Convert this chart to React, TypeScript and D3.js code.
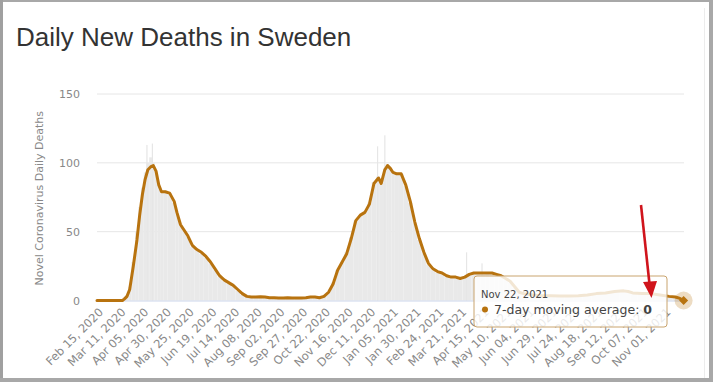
import React from 'react';
import * as d3 from 'd3';

const startDate = '2020-02-15';
const endDate = '2021-11-22';

const dayOffsets = [0, 5, 10, 15, 20, 25, 28, 30, 33, 36, 40, 44, 47, 50, 53, 56, 59, 62, 65, 68, 71, 75, 80, 85, 88, 92, 96, 100, 105, 110, 115, 120, 125, 130, 135, 140, 145, 150, 155, 160, 165, 170, 175, 180, 185, 190, 195, 200, 205, 210, 215, 220, 225, 230, 235, 240, 245, 250, 255, 260, 265, 270, 275, 280, 285, 290, 295, 300, 305, 310, 313, 317, 320, 323, 326, 330, 335, 340, 345, 350, 355, 360, 365, 370, 375, 380, 385, 390, 395, 400, 405, 410, 415, 420, 425, 430, 435, 440, 445, 450, 455, 460, 465, 470, 475, 480, 490, 500, 510, 520, 530, 540, 550, 560, 570, 580, 585, 590, 600, 610, 620, 630, 637, 642, 646];

const movingAverage = [0, 0, 0, 0, 0, 0, 0, 1, 3, 8, 25, 44, 62, 77, 88, 95, 97, 98, 94, 84, 79, 79, 78, 72, 64, 55, 51, 47, 40, 37, 35, 32, 28, 23, 18, 15, 13, 11, 8, 5, 3, 2.5, 2.5, 2.8, 2.5, 2, 2, 1.8, 1.8, 2, 1.8, 1.8, 1.8, 2, 2.5, 2.5, 2, 3, 6, 12, 22, 28, 34, 45, 58, 62, 64, 70, 85, 89, 85, 95, 98, 96, 93, 92, 92, 84, 72, 57, 45, 35, 27, 23, 21, 20, 18, 17, 17, 16, 17, 19, 20, 20, 20, 20, 20, 19, 18, 16, 14, 10, 6, 5, 4.5, 4, 3.5, 3.5, 3.3, 3.3, 3.5, 4, 5, 5.5, 6.5, 7, 6.5, 5.5, 5, 5, 4, 3, 2.5, 1.5, 0];

const dailyDeaths = [0, 0, 0, 0, 0, 0, 0, 2, 4, 10, 28, 50, 68, 82, 93, 100, 104, 100, 92, 84, 78, 80, 78, 71, 63, 54, 50, 46, 39, 36, 34, 31, 27, 22, 17, 14, 12, 10, 7, 4, 3, 2, 3, 3, 2, 2, 2, 2, 2, 2, 2, 2, 2, 2, 3, 3, 2, 3, 6, 13, 22, 28, 35, 46, 58, 62, 64, 71, 86, 90, 86, 96, 99, 96, 93, 92, 92, 83, 71, 56, 44, 34, 26, 22, 20, 19, 17, 16, 16, 15, 17, 19, 20, 20, 19, 20, 20, 18, 17, 15, 13, 9, 6, 5, 4, 4, 3, 3, 3, 3, 3, 4, 5, 5, 6, 7, 6, 5, 5, 5, 4, 3, 2, 1, 0];

const spikeDays = [55, 61, 309, 317, 407, 424];
const spikeDeaths = [113, 114, 112, 120, 35, 27];

const tickLabels = ['Feb 15, 2020', 'Mar 11, 2020', 'Apr 05, 2020', 'Apr 30, 2020', 'May 25, 2020', 'Jun 19, 2020', 'Jul 14, 2020', 'Aug 08, 2020', 'Sep 02, 2020', 'Sep 27, 2020', 'Oct 22, 2020', 'Nov 16, 2020', 'Dec 11, 2020', 'Jan 05, 2021', 'Jan 30, 2021', 'Feb 24, 2021', 'Mar 21, 2021', 'Apr 15, 2021', 'May 10, 2021', 'Jun 04, 2021', 'Jun 29, 2021', 'Jul 24, 2021', 'Aug 18, 2021', 'Sep 12, 2021', 'Oct 07, 2021', 'Nov 01, 2021'];

const yTicks = [0, 50, 100, 150];

const tooltipDate = 'Nov 22, 2021';
const tooltipValue = 0;

const DAY = 86400000;
const parseLabel = d3.utcParse('%b %d, %Y');
const t0 = d3.utcParse('%Y-%m-%d')(startDate) as Date;
const t1 = d3.utcParse('%Y-%m-%d')(endDate) as Date;
const dayToDate = (d: number) => new Date(t0.getTime() + d * DAY);

export default function App() {
  const W = 713, H = 382;
  const x = d3.scaleUtc().domain([t0, t1]).range([97, 683.6]);
  const y = d3.scaleLinear().domain([0, 150]).range([300.5, 94]);
  const lineColor = '#b8730f';
  const font = '"DejaVu Sans", Verdana, sans-serif';

  const pts = dayOffsets.map((d, i) => ({ d, v: movingAverage[i], b: dailyDeaths[i] }));
  const line = d3.line<{ d: number; v: number }>()
    .x(p => x(dayToDate(p.d)))
    .y(p => y(p.v));

  const bars = pts.map((p, i) => {
    const prev = i > 0 ? (pts[i - 1].d + p.d) / 2 : p.d - 0.5;
    const next = i < pts.length - 1 ? (pts[i + 1].d + p.d) / 2 : p.d + 0.5;
    const x0 = x(dayToDate(prev));
    const x1 = x(dayToDate(next));
    return { x0, x1, y: y(p.b) };
  });

  const last = pts[pts.length - 1];
  const mx = x(dayToDate(last.d));
  const my = y(last.v);

  return (
    <svg width={W} height={H} style={{ position: 'fixed', left: 0, top: 0, background: '#fff' }} fontFamily={font}>
      {/* frame */}
      <rect x={0} y={0} width={W} height={2} fill="#a8a8a8" />
      <rect x={0} y={0} width={3} height={H} fill="#a0a0a0" />
      <rect x={709} y={0} width={4} height={H} fill="#a8a8a8" />
      <rect x={0} y={378} width={W} height={4} fill="#a8a8a8" />
      <line x1={704.5} y1={8} x2={704.5} y2={378} stroke="#ececec" />

      <text x={16} y={46} fontFamily='"Liberation Sans", Arial, sans-serif' fontSize={26} fill="#333">Daily New Deaths in Sweden</text>

      {/* gridlines */}
      {yTicks.filter(t => t > 0).map(t => (
        <line key={t} x1={97} x2={684} y1={y(t)} y2={y(t)} stroke="#e6e6e6" strokeWidth={1} />
      ))}
      {yTicks.map(t => (
        <text key={'yl' + t} x={80} y={y(t) + 4} textAnchor="end" fontSize={11} fill="#888">{t}</text>
      ))}
      <text transform={`translate(43,${(y(0) + y(150)) / 2 + 1}) rotate(-90)`} textAnchor="middle" fontSize={11} fill="#888">Novel Coronavirus Daily Deaths</text>

      {/* bars */}
      {bars.map((b, i) => (
        <rect key={'b' + i} x={b.x0} width={Math.max(0, b.x1 - b.x0)} y={b.y} height={Math.max(0, y(0) - b.y)} fill="#e9e9e9" />
      ))}
      {spikeDays.map((d, i) => {
        const sx = x(dayToDate(d));
        return <rect key={'s' + i} x={sx - 0.6} width={1.2} y={y(spikeDeaths[i])} height={y(0) - y(spikeDeaths[i])} fill="#e6e6e6" />;
      })}

      {/* x axis */}
      <line x1={97} x2={684} y1={301} y2={301} stroke="#ccd6eb" />
      {tickLabels.map(l => {
        const tx = x(parseLabel(l) as Date);
        return (
          <text key={l} transform={`translate(${tx + 4},${310}) rotate(-45)`} textAnchor="end" dy="0.35em" fontSize={11.5} fill="#888">{l}</text>
        );
      })}

      {/* moving average line */}
      <path d={line(pts) || ''} fill="none" stroke={lineColor} strokeWidth={3} strokeLinejoin="round" strokeLinecap="round" />

      {/* tooltip */}
      <rect x={474} y={276} width={193} height={51} rx={3} fill="#fff" fillOpacity={0.82} stroke="#c9a46e" strokeWidth={1} />
      <text x={481} y={298} fontSize={10} fill="#444">{tooltipDate}</text>
      <circle cx={485} cy={309.5} r={3} fill={lineColor} />
      <text x={494} y={314} fontSize={12.5} fill="#444">7-day moving average: <tspan fontWeight="bold">{tooltipValue}</tspan></text>

      {/* hover marker */}
      <circle cx={mx} cy={my} r={9} fill={lineColor} fillOpacity={0.25} />
      <path d={`M${mx},${my - 4.5} L${mx + 4.5},${my} L${mx},${my + 4.5} L${mx - 4.5},${my} Z`} fill={lineColor} />

      {/* red arrow */}
      <line x1={641} y1={205} x2={649.5} y2={284} stroke="#d0141c" strokeWidth={2.6} />
      <path d="M643,282 L657,281 L651.5,298 Z" fill="#d0141c" />
    </svg>
  );
}
